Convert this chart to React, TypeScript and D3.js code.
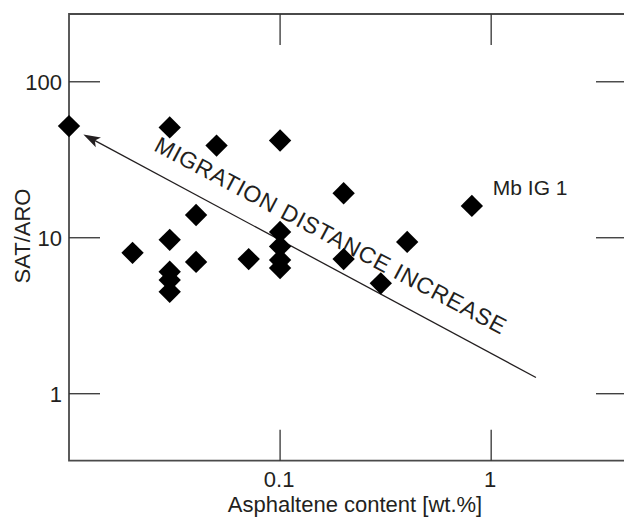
import { useRef, useEffect } from 'react';
import * as d3 from 'd3';

// asphaltene content [wt.%] and SAT/ARO ratio
const asphaltene = [
  0.01, 0.03, 0.05, 0.1, 0.04, 0.03, 0.02, 0.04, 0.03, 0.03, 0.03,
  0.071, 0.1, 0.1, 0.1, 0.1, 0.2, 0.2, 0.3, 0.4, 0.81,
];
const satAro = [
  52, 51, 39, 42, 14, 9.7, 8, 7, 6.05, 5.35, 4.5,
  7.3, 10.9, 8.8, 7.2, 6.4, 19.3, 7.3, 5.1, 9.4, 16,
];

const xTicks = [0.1, 1];
const xTickLabels = ['0.1', '1'];
const yTicks = [1, 10, 100];
const yTickLabels = ['1', '10', '100'];

const xDomain = [0.01, 4.4];
const yDomain = [0.372, 272];

// arrow: tail (lower right) -> head (upper left)
const arrowFrom = [1.63, 1.27];
const arrowTo = [0.0117, 46];
const arrowText = 'MIGRATION DISTANCE INCREASE';

const labelPoint = [0.81, 16];
const labelText = 'Mb IG 1';

function App() {
  const svgRef = useRef(null);
  const width = 624;
  const height = 517;

  useEffect(() => {
    const margin = { top: 14, left: 69, bottom: 56.3, right: -3 };
    const font = "'Liberation Sans', Arial, sans-serif";
    const textColor = '#231f20';
    const fs = 22;

    const svg = d3.select(svgRef.current);
    svg.selectAll('*').remove();

    const x = d3
      .scaleLog()
      .domain(xDomain)
      .range([margin.left, width - margin.right]);
    const y = d3
      .scaleLog()
      .domain(yDomain)
      .range([height - margin.bottom, margin.top]);

    const [x0, x1] = x.range();
    const [yb, yt] = y.range();
    const tickLen = 31;

    // frame
    svg
      .append('path')
      .attr('d', `M${x1},${yt}H${x0}V${yb}H${x1}V${yt}`)
      .attr('fill', 'none')
      .attr('stroke', '#4a4a4a')
      .attr('stroke-width', 1.8);

    // inward ticks
    const ticks = svg.append('g').attr('stroke', '#333').attr('stroke-width', 1.3);
    xTicks.forEach((t) => {
      ticks.append('line').attr('x1', x(t)).attr('x2', x(t)).attr('y1', yt).attr('y2', yt + tickLen);
      ticks.append('line').attr('x1', x(t)).attr('x2', x(t)).attr('y1', yb).attr('y2', yb - tickLen);
    });
    yTicks.forEach((t) => {
      ticks.append('line').attr('x1', x0).attr('x2', x0 + tickLen).attr('y1', y(t)).attr('y2', y(t));
      ticks.append('line').attr('x1', x1).attr('x2', x1 - tickLen).attr('y1', y(t)).attr('y2', y(t));
    });

    // tick labels
    svg
      .selectAll('.xlab')
      .data(xTicks)
      .join('text')
      .attr('class', 'xlab')
      .attr('x', (d) => x(d) - 1)
      .attr('y', yb + 26)
      .attr('text-anchor', 'middle')
      .attr('font-family', font)
      .attr('font-size', fs)
      .attr('fill', textColor)
      .text((d, i) => xTickLabels[i]);

    svg
      .selectAll('.ylab')
      .data(yTicks)
      .join('text')
      .attr('class', 'ylab')
      .attr('x', x0 - 7)
      .attr('y', (d) => y(d) + 8)
      .attr('text-anchor', 'end')
      .attr('font-family', font)
      .attr('font-size', fs)
      .attr('fill', textColor)
      .text((d, i) => yTickLabels[i]);

    // axis titles
    svg
      .append('text')
      .attr('x', 355)
      .attr('y', yb + 51)
      .attr('text-anchor', 'middle')
      .attr('font-family', font)
      .attr('font-size', fs)
      .attr('fill', textColor)
      .text('Asphaltene content [wt.%]');

    svg
      .append('text')
      .attr('transform', `translate(29.5,236) rotate(-90)`)
      .attr('text-anchor', 'middle')
      .attr('font-family', font)
      .attr('font-size', fs)
      .attr('fill', textColor)
      .text('SAT/ARO');

    // arrow
    const ax1 = x(arrowFrom[0]);
    const ay1 = y(arrowFrom[1]);
    const ax2 = x(arrowTo[0]);
    const ay2 = y(arrowTo[1]);
    const ang = Math.atan2(ay2 - ay1, ax2 - ax1);
    const ux = Math.cos(ang);
    const uy = Math.sin(ang);
    const headLen = 17;
    const headHalf = 5.5;
    svg
      .append('line')
      .attr('x1', ax1)
      .attr('y1', ay1)
      .attr('x2', ax2 - ux * 10)
      .attr('y2', ay2 - uy * 10)
      .attr('stroke', textColor)
      .attr('stroke-width', 1.3);
    const bx = ax2 - ux * headLen;
    const by = ay2 - uy * headLen;
    const nx = ax2 - ux * (headLen - 4);
    const ny = ay2 - uy * (headLen - 4);
    svg
      .append('path')
      .attr(
        'd',
        `M${ax2},${ay2}L${bx - uy * headHalf},${by + ux * headHalf}L${nx},${ny}L${bx + uy * headHalf},${by - ux * headHalf}Z`
      )
      .attr('fill', textColor);

    // arrow label, parallel to the arrow and above it
    const deg = (Math.atan2(ay1 - ay2, ax1 - ax2) * 180) / Math.PI - 0.3;
    const mx = (ax1 + ax2) / 2;
    const my = (ay1 + ay2) / 2;
    const along = 8.8;
    const normal = 20;
    const r = (deg * Math.PI) / 180;
    const tx = mx + Math.cos(r) * along + Math.sin(r) * normal;
    const ty = my + Math.sin(r) * along - Math.cos(r) * normal;
    svg
      .append('text')
      .attr('transform', `translate(${tx},${ty}) rotate(${deg})`)
      .attr('text-anchor', 'middle')
      .attr('font-family', font)
      .attr('font-size', 23)
      .attr('textLength', 394)
      .attr('lengthAdjust', 'spacing')
      .attr('fill', textColor)
      .text(arrowText);

    // points
    const data = asphaltene.map((a, i) => ({ a, s: satAro[i] }));
    const diamond = d3.symbol().type(d3.symbolSquare).size(250);
    svg
      .selectAll('.pt')
      .data(data)
      .join('path')
      .attr('class', 'pt')
      .attr('d', diamond)
      .attr('transform', (d) => `translate(${x(d.a)},${y(d.s)}) rotate(45)`)
      .attr('fill', '#000');

    // sample label
    svg
      .append('text')
      .attr('x', x(labelPoint[0]) + 21)
      .attr('y', y(labelPoint[1]) - 11)
      .attr('font-family', font)
      .attr('font-size', 21)
      .attr('fill', textColor)
      .text(labelText);
  }, []);

  return (
    <svg
      ref={svgRef}
      width={width}
      height={height}
      style={{ position: 'absolute', left: 0, top: 0, background: '#fff' }}
    ></svg>
  );
}

export default App;
